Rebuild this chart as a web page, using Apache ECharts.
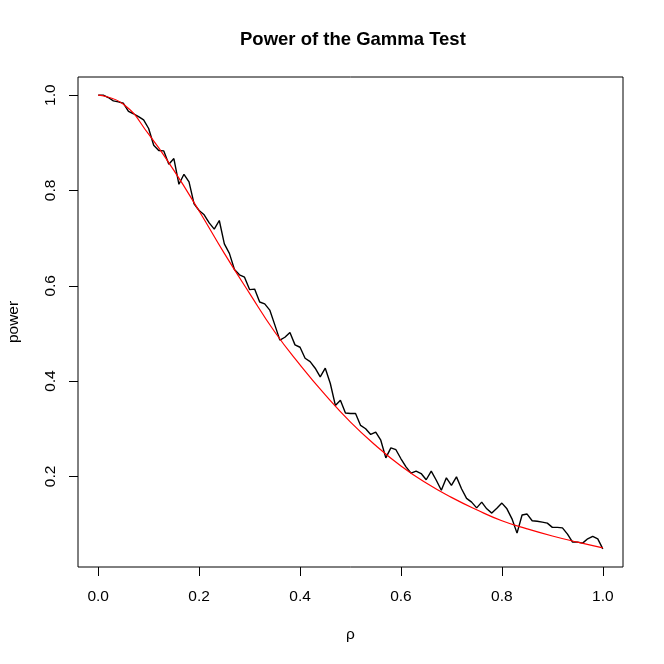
<!DOCTYPE html>
<html>
<head>
<meta charset="utf-8">
<script src="https://cdn.jsdelivr.net/npm/echarts@6/dist/echarts.min.js"></script>
<style>html,body{margin:0;padding:0;background:#fff}#c{width:664px;height:664px}</style>
</head>
<body>
<div id="c"></div>
<script>
var titleText = 'Power of the Gamma Test';
var xName = 'ρ';
var yName = 'power';
var xTicks = [0.0, 0.2, 0.4, 0.6, 0.8, 1.0];
var yTicks = [0.2, 0.4, 0.6, 0.8, 1.0];

var rho = [0.00,0.01,0.02,0.03,0.04,0.05,0.06,0.07,0.08,0.09,
  0.10,0.11,0.12,0.13,0.14,0.15,0.16,0.17,0.18,0.19,
  0.20,0.21,0.22,0.23,0.24,0.25,0.26,0.27,0.28,0.29,
  0.30,0.31,0.32,0.33,0.34,0.35,0.36,0.37,0.38,0.39,
  0.40,0.41,0.42,0.43,0.44,0.45,0.46,0.47,0.48,0.49,
  0.50,0.51,0.52,0.53,0.54,0.55,0.56,0.57,0.58,0.59,
  0.60,0.61,0.62,0.63,0.64,0.65,0.66,0.67,0.68,0.69,
  0.70,0.71,0.72,0.73,0.74,0.75,0.76,0.77,0.78,0.79,
  0.80,0.81,0.82,0.83,0.84,0.85,0.86,0.87,0.88,0.89,
  0.90,0.91,0.92,0.93,0.94,0.95,0.96,0.97,0.98,0.99,1.00];

var empiricalPower = [1.000,1.000,0.995,0.988,0.986,0.983,0.966,0.961,0.955,0.948,
  0.930,0.895,0.884,0.883,0.855,0.867,0.813,0.834,0.818,0.772,
  0.758,0.749,0.732,0.719,0.737,0.688,0.668,0.634,0.623,0.618,
  0.592,0.593,0.566,0.562,0.549,0.518,0.486,0.492,0.502,0.476,
  0.471,0.448,0.441,0.427,0.409,0.427,0.395,0.349,0.360,0.333,
  0.332,0.332,0.307,0.300,0.288,0.293,0.276,0.239,0.260,0.256,
  0.237,0.220,0.207,0.211,0.206,0.193,0.211,0.192,0.171,0.197,
  0.181,0.199,0.174,0.154,0.146,0.134,0.146,0.132,0.123,0.133,
  0.144,0.132,0.111,0.081,0.119,0.121,0.107,0.106,0.104,0.102,
  0.093,0.093,0.092,0.079,0.062,0.062,0.060,0.069,0.074,0.069,0.048];

var theoryRho = [0.00,0.05,0.10,0.15,0.20,0.25,0.30,0.35,0.40,0.45,
  0.50,0.55,0.60,0.65,0.70,0.75,0.80,0.85,0.90,0.95,1.00];
var theoryPower = [1.000,0.981,0.918,0.842,0.757,0.668,0.584,0.503,0.434,0.371,
  0.314,0.265,0.222,0.186,0.156,0.130,0.107,0.090,0.075,0.062,0.050];

var FONT = '"Liberation Sans", Arial, Helvetica, sans-serif';

var chart = echarts.init(document.getElementById('c'), null, {renderer: 'canvas'});
chart.setOption({
  animation: false,
  backgroundColor: '#ffffff',
  title: {
    text: titleText,
    left: 240,
    top: 30,
    padding: 0,
    textStyle: {fontFamily: FONT, fontWeight: 'bold', fontSize: 18.5, color: '#000'}
  },
  grid: {
    left: 78, right: 41, top: 77, bottom: 97,
    outerBoundsMode: 'none',
    containLabel: false,
    show: true, borderColor: '#000', borderWidth: 1, backgroundColor: 'transparent'
  },
  xAxis: {
    type: 'value',
    min: -0.04, max: 1.04,
    name: xName,
    nameLocation: 'middle',
    nameGap: 60,
    nameTextStyle: {fontFamily: FONT, fontSize: 15.5, color: '#000'},
    axisLine: {show: false, onZero: false},
    splitLine: {show: false},
    axisTick: {show: true, length: 9, inside: false, customValues: xTicks, lineStyle: {color: '#000', width: 1}},
    axisLabel: {show: true, margin: 22, customValues: xTicks, fontFamily: FONT, fontSize: 15.5, color: '#000',
      formatter: function (v) { return Number(v).toFixed(1); }}
  },
  yAxis: {
    type: 'value',
    min: 0.0099, max: 1.0381,
    name: yName,
    nameLocation: 'middle',
    nameGap: 56,
    nameRotate: 90,
    nameTextStyle: {fontFamily: FONT, fontSize: 15.5, color: '#000'},
    axisLine: {show: false, onZero: false},
    splitLine: {show: false},
    axisTick: {show: true, length: 9, inside: false, customValues: yTicks, lineStyle: {color: '#000', width: 1}},
    axisLabel: {show: true, margin: 19, rotate: 90, customValues: yTicks, fontFamily: FONT, fontSize: 15.5, color: '#000',
      formatter: function (v) { return Number(v).toFixed(1); }}
  },
  series: [
    {
      type: 'line',
      data: rho.map(function (r, i) { return [r, empiricalPower[i]]; }),
      showSymbol: false,
      lineStyle: {color: '#000', width: 1.4},
      z: 2
    },
    {
      type: 'line',
      data: theoryRho.map(function (r, i) { return [r, theoryPower[i]]; }),
      smooth: true,
      showSymbol: false,
      lineStyle: {color: '#ff0000', width: 1.2},
      z: 3
    }
  ]
});
</script>
</body>
</html>
